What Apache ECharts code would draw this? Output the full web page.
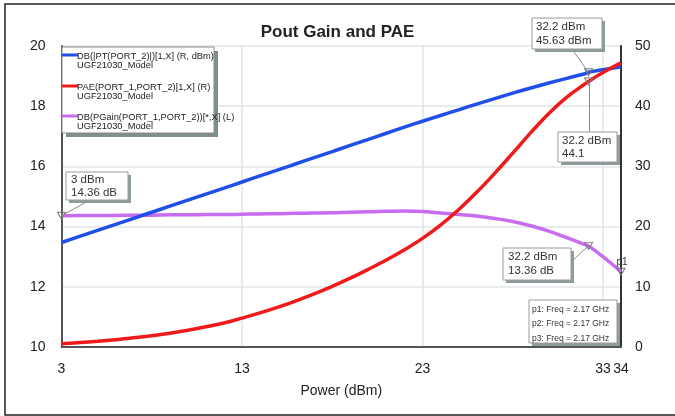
<!DOCTYPE html>
<html><head><meta charset="utf-8">
<script src="https://cdn.jsdelivr.net/npm/echarts@6/dist/echarts.min.js"></script>
<style>html,body{margin:0;padding:0;background:#fff}#c{width:675px;height:416px}</style>
</head><body><div id="c"></div>
<script>
// ---- data ----
const powerIn = [3,4,5,6,7,8,9,10,11,12,13,14,15,16,17,18,19,20,21,22,23,24,25,26,27,28,29,30,31,32,32.2,33,34];
const poutDbm = [17.36,18.37,19.37,20.37,21.38,22.38,23.39,24.39,25.40,26.40,27.41,28.42,29.43,30.44,31.45,32.46,33.48,34.49,35.51,36.52,37.50,38.45,39.40,40.35,41.27,42.17,43.03,43.85,44.63,45.40,45.63,46.05,46.55];
const paePct  = [0.55,0.73,0.95,1.21,1.52,1.88,2.30,2.79,3.35,3.99,4.80,5.66,6.62,7.67,8.82,10.07,11.43,12.90,14.45,16.15,18.05,20.25,22.80,25.70,28.85,32.20,35.60,38.80,41.50,43.70,44.10,45.60,47.20];
const gainDb  = [14.36,14.37,14.37,14.37,14.38,14.38,14.39,14.39,14.40,14.40,14.41,14.42,14.43,14.44,14.45,14.46,14.48,14.49,14.51,14.52,14.50,14.45,14.40,14.35,14.27,14.17,14.03,13.85,13.63,13.40,13.36,13.0,12.5];
const seriesNames = ['DB(|PT(PORT_2)|)[1,X] (R, dBm)','PAE(PORT_1,PORT_2)[1,X] (R)','DB(PGain(PORT_1,PORT_2))[*,X] (L)'];
const modelName = 'UGF21030_Model';
const markerStart = [3, 14.36];
const markerPout = [32.2, 45.63];
const markerPae = [32.2, 44.1];
const markerGain = [32.2, 13.36];
const markerP1 = [34, 12.5];
const freqNotes = ['p1: Freq = 2.17 GHz','p2: Freq = 2.17 GHz','p3: Freq = 2.17 GHz'];
const xRange = [3, 34], xStep = 10;
const leftRange = [10, 20], leftStep = 2;
const rightRange = [0, 50], rightStep = 10;

const zip = (xs, ys) => xs.map((x, i) => [x, ys[i]]);
const FONT = 'Liberation Sans, Arial, sans-serif';
const colors = ['#1f4fe8', '#f01a1a', '#c86cf0'];

const chart = echarts.init(document.getElementById('c'), null, {renderer: 'canvas'});
const tri = {symbol: 'triangle', symbolRotate: 180, symbolSize: [8, 7],
  itemStyle: {color: 'rgba(255,255,255,0)', borderColor: '#777', borderWidth: 1}};
function mp(coords, labels) {
  return {silent: true, animation: false,
    data: coords.map((c, i) => Object.assign({coord: c}, tri, labels && labels[i] ? {
      label: {show: true, formatter: labels[i], position: [0, -11], fontSize: 10, color: '#333', fontFamily: FONT}
    } : {label: {show: false}}))};
}

chart.setOption({
  animation: false,
  backgroundColor: '#fff',
  title: {text: 'Pout Gain and PAE', left: 'center', top: 19,
    textStyle: {fontFamily: FONT, fontSize: 17, fontWeight: 'bold', color: '#222'}},
  grid: {left: 61.5, right: 54, top: 46, bottom: 69},
  xAxis: {type: 'value', min: xRange[0], max: xRange[1], interval: xStep,
    name: 'Power (dBm)', nameLocation: 'middle', nameGap: 37,
    nameTextStyle: {fontFamily: FONT, fontSize: 14, color: '#222'},
    axisLine: {show: true, onZero: false, lineStyle: {color: '#555', width: 2}},
    axisTick: {show: false},
    axisLabel: {fontFamily: FONT, fontSize: 14, color: '#222', margin: 15},
    splitLine: {show: true, lineStyle: {color: '#dfe6e6', width: 1.5}}},
  yAxis: [
    {type: 'value', min: leftRange[0], max: leftRange[1], interval: leftStep, position: 'left',
      axisLine: {show: true, lineStyle: {color: '#555', width: 2}},
      axisTick: {show: false},
      axisLabel: {fontFamily: FONT, fontSize: 14, color: '#222', margin: 16},
      splitLine: {show: true, lineStyle: {color: '#dfe6e6', width: 1.5}}},
    {type: 'value', min: rightRange[0], max: rightRange[1], interval: rightStep, position: 'right',
      axisLine: {show: true, lineStyle: {color: '#333', width: 2}},
      axisTick: {show: false},
      axisLabel: {fontFamily: FONT, fontSize: 14, color: '#222', margin: 14},
      splitLine: {show: false}}
  ],
  series: [
    {name: seriesNames[2], type: 'line', yAxisIndex: 0, data: zip(powerIn, gainDb), smooth: 0.4,
      showSymbol: false, lineStyle: {color: colors[2], width: 3.5}, z: 2,
      markPoint: mp([markerStart, markerGain, markerP1], [null, null, 'p1'])},
    {name: seriesNames[0], type: 'line', yAxisIndex: 1, data: zip(powerIn, poutDbm), smooth: 0.4,
      showSymbol: false, lineStyle: {color: colors[0], width: 3.5}, z: 3,
      markPoint: mp([markerPout])},
    {name: seriesNames[1], type: 'line', yAxisIndex: 1, data: zip(powerIn, paePct), smooth: 0.4,
      showSymbol: false, lineStyle: {color: colors[1], width: 3.5}, z: 4,
      markPoint: mp([markerPae])}
  ]
});

// ---- annotations (boxes placed in layout, leader lines to data points via the axes) ----
const px = (pt, yi) => chart.convertToPixel({xAxisIndex: 0, yAxisIndex: yi}, pt);
const g = [];
g.push({type: 'rect', shape: {x: 5, y: 4, width: 680, height: 411}, style: {fill: 'none', stroke: '#222', lineWidth: 1.5}, z: 100});
function box(x, y, w, h, lines, fs, lh, pad) {
  g.push({type: 'rect', shape: {x: x + 3, y: y + 3, width: w, height: h}, style: {fill: '#8c9c9c'}, z: 50});
  g.push({type: 'rect', shape: {x: x, y: y, width: w, height: h}, style: {fill: '#fff', stroke: '#9a9a9a', lineWidth: 1}, z: 51});
  lines.forEach((t, i) => g.push({type: 'text', x: x + pad, y: y + lh * (i + 0.5) + 2, z: 52,
    style: {text: t, fontFamily: FONT, fontSize: fs, fill: '#333', verticalAlign: 'middle'}}));
}
function lead(x1, y1, x2, y2) {
  g.push({type: 'line', shape: {x1, y1, x2, y2}, style: {stroke: '#888', lineWidth: 1}, z: 49});
}
const pS = px(markerStart, 0), pO = px(markerPout, 1), pA = px(markerPae, 1), pG = px(markerGain, 0);
lead(90, 200, pS[0], pS[1]);
box(66, 172, 62, 28, ['3 dBm', '14.36 dB'], 11.5, 12.5, 5);
lead(572, 49, pO[0], pO[1]);
box(532, 18, 70, 31, ['32.2 dBm', '45.63 dBm'], 11.5, 14, 4);
lead(pA[0] + 1, 132, pA[0] + 1, pA[1]);
box(558, 132, 59, 30, ['32.2 dBm', '44.1'], 11.5, 13.5, 4);
lead(571, 262, pG[0], pG[1]);
box(503, 248, 68, 32, ['32.2 dBm', '13.36 dB'], 11.5, 14, 5);
box(529, 300, 88, 43, freqNotes, 8.5, 14.5, 3);

// legend
g.push({type: 'rect', shape: {x: 66, y: 51, width: 152, height: 86}, style: {fill: '#7f8f8f'}, z: 50});
g.push({type: 'rect', shape: {x: 62, y: 47, width: 152, height: 86}, style: {fill: '#fff', stroke: '#8a8a8a', lineWidth: 1}, z: 51});
const legY = [55, 86, 116];
seriesNames.forEach((n, i) => {
  g.push({type: 'line', shape: {x1: 62, y1: legY[i], x2: 78, y2: legY[i]}, style: {stroke: colors[i], lineWidth: 3}, z: 52});
  g.push({type: 'text', x: 77, y: legY[i] + 1, z: 52, style: {text: n, fontFamily: FONT, fontSize: 9.3, fill: '#222', verticalAlign: 'middle'}});
  g.push({type: 'text', x: 77, y: legY[i] + 10, z: 52, style: {text: modelName, fontFamily: FONT, fontSize: 9.3, fill: '#222', verticalAlign: 'middle'}});
});
chart.setOption({graphic: g});
</script></body></html>
